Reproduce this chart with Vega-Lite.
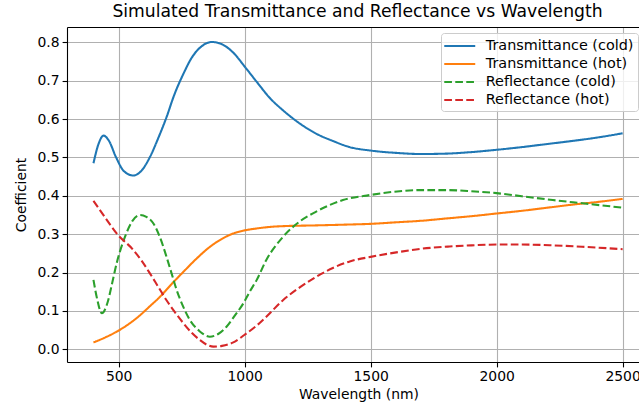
{
  "$schema": "https://vega.github.io/schema/vega-lite/v6.json",
  "autosize": {"type": "none"},
  "width": 572,
  "height": 335,
  "padding": {"left": 67, "top": 27, "right": 0, "bottom": 40},
  "background": "white",
  "title": {"text": "Simulated Transmittance and Reflectance vs Wavelength", "font": "DejaVu Sans", "fontSize": 17.2, "fontWeight": "normal", "color": "#000000", "anchor": "middle", "dx": 4.5, "offset": 7},
  "config": {
    "view": {"stroke": null},
    "axis": {"labelFont": "DejaVu Sans", "labelFontSize": 13.9, "labelColor": "#000000", "titleFont": "DejaVu Sans", "titleFontSize": 13.9, "titleFontWeight": "normal", "titleColor": "#000000", "domainColor": "#000000", "domainWidth": 1.1, "tickColor": "#000000", "tickWidth": 1.1, "tickSize": 4.9, "labelPadding": 3, "gridColor": "#b0b0b0", "gridWidth": 1.1},
    "legend": {"title": null, "orient": "none", "legendX": 374, "legendY": 6, "padding": 4, "fillColor": "rgba(255,255,255,0.8)", "strokeColor": "#cccccc", "cornerRadius": 3, "labelFont": "DejaVu Sans", "labelFontSize": 14.4, "labelColor": "#000000", "symbolType": "M-2,0H2", "symbolSize": 240, "symbolOffset": 5.75, "symbolStrokeWidth": 2.08, "rowPadding": 2, "labelOffset": 17, "labelLimit": 300}
  },
  "data": {"values": [
    {"lambda": 400, "value": 0.485, "series": "Transmittance (cold)"},
    {"lambda": 420, "value": 0.535, "series": "Transmittance (cold)"},
    {"lambda": 440, "value": 0.557, "series": "Transmittance (cold)"},
    {"lambda": 460, "value": 0.545, "series": "Transmittance (cold)"},
    {"lambda": 490, "value": 0.500, "series": "Transmittance (cold)"},
    {"lambda": 520, "value": 0.465, "series": "Transmittance (cold)"},
    {"lambda": 558, "value": 0.453, "series": "Transmittance (cold)"},
    {"lambda": 590, "value": 0.465, "series": "Transmittance (cold)"},
    {"lambda": 624, "value": 0.501, "series": "Transmittance (cold)"},
    {"lambda": 660, "value": 0.555, "series": "Transmittance (cold)"},
    {"lambda": 690, "value": 0.605, "series": "Transmittance (cold)"},
    {"lambda": 720, "value": 0.662, "series": "Transmittance (cold)"},
    {"lambda": 757, "value": 0.718, "series": "Transmittance (cold)"},
    {"lambda": 790, "value": 0.760, "series": "Transmittance (cold)"},
    {"lambda": 830, "value": 0.790, "series": "Transmittance (cold)"},
    {"lambda": 869, "value": 0.801, "series": "Transmittance (cold)"},
    {"lambda": 910, "value": 0.795, "series": "Transmittance (cold)"},
    {"lambda": 955, "value": 0.773, "series": "Transmittance (cold)"},
    {"lambda": 1000, "value": 0.737, "series": "Transmittance (cold)"},
    {"lambda": 1048, "value": 0.697, "series": "Transmittance (cold)"},
    {"lambda": 1100, "value": 0.655, "series": "Transmittance (cold)"},
    {"lambda": 1152, "value": 0.623, "series": "Transmittance (cold)"},
    {"lambda": 1220, "value": 0.588, "series": "Transmittance (cold)"},
    {"lambda": 1284, "value": 0.562, "series": "Transmittance (cold)"},
    {"lambda": 1350, "value": 0.543, "series": "Transmittance (cold)"},
    {"lambda": 1417, "value": 0.527, "series": "Transmittance (cold)"},
    {"lambda": 1500, "value": 0.518, "series": "Transmittance (cold)"},
    {"lambda": 1600, "value": 0.512, "series": "Transmittance (cold)"},
    {"lambda": 1700, "value": 0.509, "series": "Transmittance (cold)"},
    {"lambda": 1800, "value": 0.510, "series": "Transmittance (cold)"},
    {"lambda": 1900, "value": 0.514, "series": "Transmittance (cold)"},
    {"lambda": 2000, "value": 0.520, "series": "Transmittance (cold)"},
    {"lambda": 2100, "value": 0.527, "series": "Transmittance (cold)"},
    {"lambda": 2200, "value": 0.535, "series": "Transmittance (cold)"},
    {"lambda": 2300, "value": 0.543, "series": "Transmittance (cold)"},
    {"lambda": 2400, "value": 0.552, "series": "Transmittance (cold)"},
    {"lambda": 2500, "value": 0.563, "series": "Transmittance (cold)"},

    {"lambda": 400, "value": 0.018, "series": "Transmittance (hot)"},
    {"lambda": 450, "value": 0.032, "series": "Transmittance (hot)"},
    {"lambda": 492, "value": 0.046, "series": "Transmittance (hot)"},
    {"lambda": 540, "value": 0.066, "series": "Transmittance (hot)"},
    {"lambda": 585, "value": 0.089, "series": "Transmittance (hot)"},
    {"lambda": 620, "value": 0.110, "series": "Transmittance (hot)"},
    {"lambda": 664, "value": 0.137, "series": "Transmittance (hot)"},
    {"lambda": 710, "value": 0.170, "series": "Transmittance (hot)"},
    {"lambda": 757, "value": 0.202, "series": "Transmittance (hot)"},
    {"lambda": 810, "value": 0.237, "series": "Transmittance (hot)"},
    {"lambda": 862, "value": 0.267, "series": "Transmittance (hot)"},
    {"lambda": 910, "value": 0.288, "series": "Transmittance (hot)"},
    {"lambda": 955, "value": 0.302, "series": "Transmittance (hot)"},
    {"lambda": 1000, "value": 0.310, "series": "Transmittance (hot)"},
    {"lambda": 1048, "value": 0.315, "series": "Transmittance (hot)"},
    {"lambda": 1100, "value": 0.319, "series": "Transmittance (hot)"},
    {"lambda": 1152, "value": 0.321, "series": "Transmittance (hot)"},
    {"lambda": 1284, "value": 0.323, "series": "Transmittance (hot)"},
    {"lambda": 1400, "value": 0.325, "series": "Transmittance (hot)"},
    {"lambda": 1500, "value": 0.327, "series": "Transmittance (hot)"},
    {"lambda": 1600, "value": 0.331, "series": "Transmittance (hot)"},
    {"lambda": 1700, "value": 0.335, "series": "Transmittance (hot)"},
    {"lambda": 1800, "value": 0.341, "series": "Transmittance (hot)"},
    {"lambda": 1900, "value": 0.347, "series": "Transmittance (hot)"},
    {"lambda": 2000, "value": 0.354, "series": "Transmittance (hot)"},
    {"lambda": 2100, "value": 0.361, "series": "Transmittance (hot)"},
    {"lambda": 2200, "value": 0.369, "series": "Transmittance (hot)"},
    {"lambda": 2300, "value": 0.377, "series": "Transmittance (hot)"},
    {"lambda": 2400, "value": 0.384, "series": "Transmittance (hot)"},
    {"lambda": 2500, "value": 0.392, "series": "Transmittance (hot)"},

    {"lambda": 400, "value": 0.181, "series": "Reflectance (cold)"},
    {"lambda": 415, "value": 0.130, "series": "Reflectance (cold)"},
    {"lambda": 433, "value": 0.094, "series": "Reflectance (cold)"},
    {"lambda": 455, "value": 0.120, "series": "Reflectance (cold)"},
    {"lambda": 475, "value": 0.175, "series": "Reflectance (cold)"},
    {"lambda": 492, "value": 0.224, "series": "Reflectance (cold)"},
    {"lambda": 525, "value": 0.293, "series": "Reflectance (cold)"},
    {"lambda": 555, "value": 0.335, "series": "Reflectance (cold)"},
    {"lambda": 585, "value": 0.350, "series": "Reflectance (cold)"},
    {"lambda": 610, "value": 0.345, "series": "Reflectance (cold)"},
    {"lambda": 638, "value": 0.328, "series": "Reflectance (cold)"},
    {"lambda": 665, "value": 0.290, "series": "Reflectance (cold)"},
    {"lambda": 690, "value": 0.241, "series": "Reflectance (cold)"},
    {"lambda": 710, "value": 0.198, "series": "Reflectance (cold)"},
    {"lambda": 730, "value": 0.155, "series": "Reflectance (cold)"},
    {"lambda": 757, "value": 0.110, "series": "Reflectance (cold)"},
    {"lambda": 783, "value": 0.076, "series": "Reflectance (cold)"},
    {"lambda": 820, "value": 0.048, "series": "Reflectance (cold)"},
    {"lambda": 862, "value": 0.033, "series": "Reflectance (cold)"},
    {"lambda": 895, "value": 0.040, "series": "Reflectance (cold)"},
    {"lambda": 928, "value": 0.059, "series": "Reflectance (cold)"},
    {"lambda": 960, "value": 0.087, "series": "Reflectance (cold)"},
    {"lambda": 995, "value": 0.120, "series": "Reflectance (cold)"},
    {"lambda": 1020, "value": 0.150, "series": "Reflectance (cold)"},
    {"lambda": 1048, "value": 0.181, "series": "Reflectance (cold)"},
    {"lambda": 1086, "value": 0.233, "series": "Reflectance (cold)"},
    {"lambda": 1152, "value": 0.293, "series": "Reflectance (cold)"},
    {"lambda": 1218, "value": 0.333, "series": "Reflectance (cold)"},
    {"lambda": 1284, "value": 0.359, "series": "Reflectance (cold)"},
    {"lambda": 1390, "value": 0.389, "series": "Reflectance (cold)"},
    {"lambda": 1496, "value": 0.402, "series": "Reflectance (cold)"},
    {"lambda": 1615, "value": 0.412, "series": "Reflectance (cold)"},
    {"lambda": 1700, "value": 0.415, "series": "Reflectance (cold)"},
    {"lambda": 1800, "value": 0.415, "series": "Reflectance (cold)"},
    {"lambda": 1900, "value": 0.412, "series": "Reflectance (cold)"},
    {"lambda": 2000, "value": 0.407, "series": "Reflectance (cold)"},
    {"lambda": 2100, "value": 0.399, "series": "Reflectance (cold)"},
    {"lambda": 2223, "value": 0.389, "series": "Reflectance (cold)"},
    {"lambda": 2350, "value": 0.380, "series": "Reflectance (cold)"},
    {"lambda": 2500, "value": 0.369, "series": "Reflectance (cold)"},

    {"lambda": 400, "value": 0.387, "series": "Reflectance (hot)"},
    {"lambda": 450, "value": 0.340, "series": "Reflectance (hot)"},
    {"lambda": 492, "value": 0.302, "series": "Reflectance (hot)"},
    {"lambda": 558, "value": 0.259, "series": "Reflectance (hot)"},
    {"lambda": 590, "value": 0.232, "series": "Reflectance (hot)"},
    {"lambda": 624, "value": 0.198, "series": "Reflectance (hot)"},
    {"lambda": 657, "value": 0.163, "series": "Reflectance (hot)"},
    {"lambda": 690, "value": 0.128, "series": "Reflectance (hot)"},
    {"lambda": 723, "value": 0.097, "series": "Reflectance (hot)"},
    {"lambda": 757, "value": 0.068, "series": "Reflectance (hot)"},
    {"lambda": 790, "value": 0.043, "series": "Reflectance (hot)"},
    {"lambda": 823, "value": 0.024, "series": "Reflectance (hot)"},
    {"lambda": 850, "value": 0.012, "series": "Reflectance (hot)"},
    {"lambda": 876, "value": 0.007, "series": "Reflectance (hot)"},
    {"lambda": 910, "value": 0.009, "series": "Reflectance (hot)"},
    {"lambda": 955, "value": 0.018, "series": "Reflectance (hot)"},
    {"lambda": 1000, "value": 0.038, "series": "Reflectance (hot)"},
    {"lambda": 1048, "value": 0.062, "series": "Reflectance (hot)"},
    {"lambda": 1086, "value": 0.085, "series": "Reflectance (hot)"},
    {"lambda": 1152, "value": 0.128, "series": "Reflectance (hot)"},
    {"lambda": 1220, "value": 0.162, "series": "Reflectance (hot)"},
    {"lambda": 1284, "value": 0.189, "series": "Reflectance (hot)"},
    {"lambda": 1350, "value": 0.212, "series": "Reflectance (hot)"},
    {"lambda": 1417, "value": 0.229, "series": "Reflectance (hot)"},
    {"lambda": 1500, "value": 0.241, "series": "Reflectance (hot)"},
    {"lambda": 1615, "value": 0.254, "series": "Reflectance (hot)"},
    {"lambda": 1700, "value": 0.262, "series": "Reflectance (hot)"},
    {"lambda": 1813, "value": 0.268, "series": "Reflectance (hot)"},
    {"lambda": 1900, "value": 0.271, "series": "Reflectance (hot)"},
    {"lambda": 2000, "value": 0.273, "series": "Reflectance (hot)"},
    {"lambda": 2100, "value": 0.273, "series": "Reflectance (hot)"},
    {"lambda": 2223, "value": 0.271, "series": "Reflectance (hot)"},
    {"lambda": 2350, "value": 0.267, "series": "Reflectance (hot)"},
    {"lambda": 2500, "value": 0.261, "series": "Reflectance (hot)"}
  ]},
  "layer": [
    {
      "mark": {"type": "line", "strokeWidth": 2.08, "interpolate": "monotone"},
      "encoding": {
        "x": {"field": "lambda", "type": "quantitative", "scale": {"domain": [295, 2565], "nice": false, "zero": false},
              "axis": {"orient": "bottom", "values": [500, 1000, 1500, 2000, 2500], "format": "d", "title": "Wavelength (nm)", "titleX": 291.5, "titlePadding": 4}},
        "y": {"field": "value", "type": "quantitative", "scale": {"domain": [-0.033, 0.84], "nice": false, "zero": false},
              "axis": {"values": [0, 0.1, 0.2, 0.3, 0.4, 0.5, 0.6, 0.7, 0.8], "format": ".1f", "title": "Coefficient", "titlePadding": 9}},
        "color": {"field": "series", "type": "nominal",
                  "scale": {"domain": ["Transmittance (cold)", "Transmittance (hot)", "Reflectance (cold)", "Reflectance (hot)"], "range": ["#1f77b4", "#ff7f0e", "#2ca02c", "#d62728"]}},
        "strokeDash": {"field": "series", "type": "nominal",
                  "scale": {"domain": ["Transmittance (cold)", "Transmittance (hot)", "Reflectance (cold)", "Reflectance (hot)"], "range": [[1, 0], [1, 0], [7.7, 3.3], [7.7, 3.3]]}}
      }
    },
    {
      "mark": {"type": "line", "opacity": 0},
      "encoding": {
        "x": {"field": "lambda", "type": "quantitative", "axis": {"orient": "top", "labels": false, "ticks": false, "grid": false, "title": null, "domain": true}},
        "detail": {"field": "series"}
      }
    }
  ],
  "resolve": {"axis": {"x": "independent"}}
}
